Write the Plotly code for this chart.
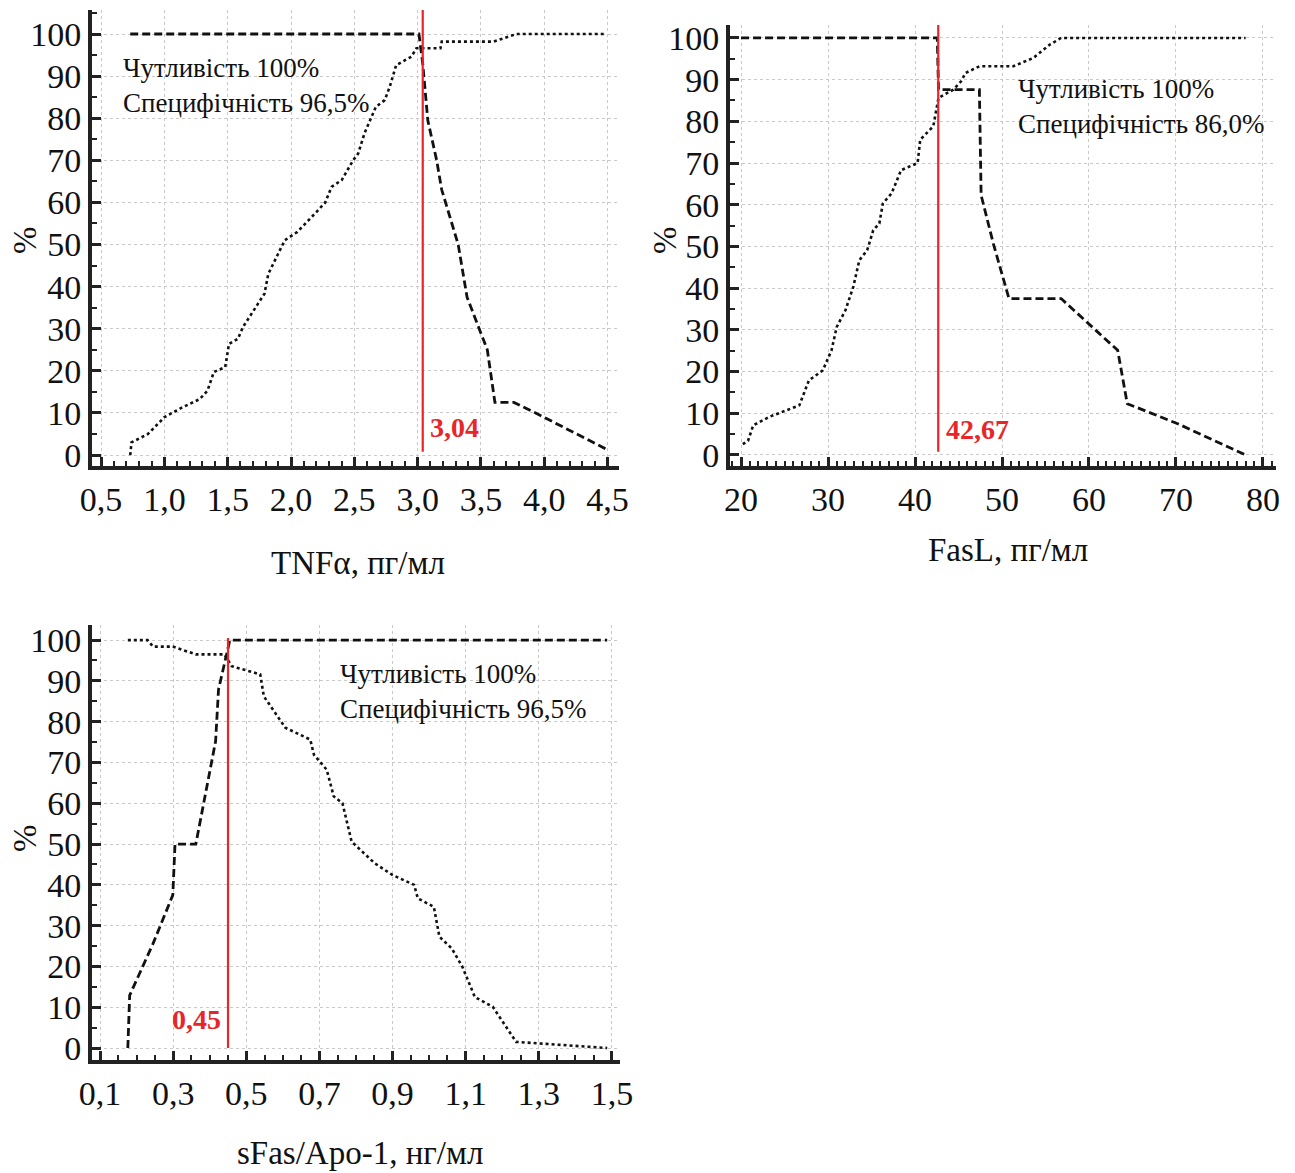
import plotly.graph_objects as go

W, H = 1295, 1173

# ---------------- data ----------------
tnf_sens_x = [0.73, 3.01, 3.04, 3.08, 3.15, 3.19, 3.32, 3.39, 3.55, 3.61, 3.76, 3.97, 4.49]
tnf_sens_y = [100, 100, 93, 79.5, 70, 63, 50, 37.5, 25, 12.5, 12.5, 9.4, 1.4]
tnf_spec_x = [0.73, 0.74, 0.87, 1.0, 1.14, 1.28, 1.34, 1.39, 1.48, 1.51, 1.58, 1.62, 1.79, 1.82,
              1.95, 2.05, 2.2, 2.27, 2.32, 2.4, 2.49, 2.53, 2.58, 2.67, 2.74, 2.78, 2.83, 2.95,
              2.99, 3.02, 3.18, 3.19, 3.6, 3.78, 4.49]
tnf_spec_y = [0, 3, 5, 9, 11.3, 13.3, 15.3, 19.7, 20.9, 26.4, 27.6, 30.4, 38.3, 43,
              51, 53, 57.7, 60, 63.7, 65.3, 70, 71.6, 76.4, 82.7, 84.3, 87.5, 92.6, 94.6,
              96.6, 96.6, 96.6, 98.2, 98.2, 100, 100]
tnf_cut = 3.04

fasl_sens_x = [20.0, 42.56, 42.7, 47.4, 47.6, 49.0, 50.8, 56.8, 63.3, 64.4, 70.2, 78.0]
fasl_sens_y = [100, 100, 87.6, 87.6, 62.3, 50.7, 37.5, 37.5, 25.1, 12.3, 7.5, 0]
fasl_spec_x = [20.2, 20.8, 21.4, 23.2, 26.7, 27.8, 29.4, 30.4, 31.0, 32.0, 32.9, 33.6, 34.5,
               35.2, 35.9, 36.3, 37.3, 38.4, 40.3, 40.6, 42.1, 42.7, 44.4, 45.3, 45.8, 47.4,
               51.3, 53.6, 55.5, 56.8, 78.0]
fasl_spec_y = [2.6, 3.4, 7.1, 9.1, 11.9, 17.9, 20.3, 25.1, 30.7, 34.7, 40.3, 46.7, 49.1,
               53.9, 55.5, 60.3, 62.7, 68.3, 70.0, 75.6, 78.8, 85.6, 87.6, 89.6, 91.6, 93.2,
               93.2, 95.2, 98.4, 100, 100]
fasl_cut = 42.67

sfas_sens_x = [0.176, 0.181, 0.245, 0.299, 0.305, 0.362, 0.416, 0.424, 0.455, 1.487]
sfas_sens_y = [0, 12.9, 25.6, 37.5, 50, 50, 75.2, 87.9, 100, 100]
sfas_spec_x = [0.176, 0.23, 0.245, 0.299, 0.362, 0.44, 0.46, 0.538, 0.548, 0.573, 0.607,
               0.675, 0.685, 0.72, 0.739, 0.763, 0.788, 0.851, 0.9, 0.959, 0.969, 1.013,
               1.028, 1.062, 1.091, 1.125, 1.174, 1.238, 1.487]
sfas_spec_y = [100, 100, 98.4, 98.4, 96.5, 96.5, 93.6, 91.6, 86.2, 83, 78.5, 75.6, 71.9,
               68.2, 61.7, 60, 50.6, 45.3, 42.4, 40, 36.7, 34.6, 27.3, 24.4, 19.9, 12.5,
               10.1, 1.5, 0]
sfas_cut = 0.45

y_ticks = list(range(0, 101, 10))
tnf_ticks = [0.5, 1.0, 1.5, 2.0, 2.5, 3.0, 3.5, 4.0, 4.5]
tnf_labels = ["0,5", "1,0", "1,5", "2,0", "2,5", "3,0", "3,5", "4,0", "4,5"]
fasl_ticks = [20, 30, 40, 50, 60, 70, 80]
fasl_labels = ["20", "30", "40", "50", "60", "70", "80"]
sfas_ticks = [0.1, 0.3, 0.5, 0.7, 0.9, 1.1, 1.3, 1.5]
sfas_labels = ["0,1", "0,3", "0,5", "0,7", "0,9", "1,1", "1,3", "1,5"]

FONT = "Liberation Serif"
RED = "#e8262a"

fig = go.Figure()

def add_panel(n, sx, sy, px, py, cut, cut_y):
    xa = "x" if n == 1 else f"x{n}"
    ya = "y" if n == 1 else f"y{n}"
    fig.add_trace(go.Scatter(x=sx, y=sy, mode="lines", xaxis=xa, yaxis=ya,
                             line=dict(color="#111", width=2.8, dash="8px,4px"), showlegend=False))
    fig.add_trace(go.Scatter(x=px, y=py, mode="lines", xaxis=xa, yaxis=ya,
                             line=dict(color="#111", width=2.6, dash="dot"), showlegend=False))
    fig.add_trace(go.Scatter(x=[cut, cut], y=cut_y, mode="lines", xaxis=xa, yaxis=ya,
                             line=dict(color=RED, width=2.2), showlegend=False))

add_panel(1, tnf_sens_x, tnf_sens_y, tnf_spec_x, tnf_spec_y, tnf_cut, [0.8, 106])
add_panel(2, fasl_sens_x, fasl_sens_y, fasl_spec_x, fasl_spec_y, fasl_cut, [0.8, 103.2])
add_panel(3, sfas_sens_x, sfas_sens_y, sfas_spec_x, sfas_spec_y, sfas_cut, [0, 100.5])

def dom_x(a, b):
    return [a / W, b / W]

def dom_y(top, bot):
    return [1 - bot / H, 1 - top / H]

axis_common = dict(showline=True, linecolor="#222", linewidth=4, mirror=False,
                   ticks="inside", tickcolor="#222", tickwidth=2.5, ticklen=9,
                   showgrid=True, gridcolor="#c9c9c9", griddash="dot", gridwidth=1,
                   zeroline=False, automargin=False,
                   tickfont=dict(family=FONT, size=34, color="#111"))

def xaxis(dom, rng, ticks, labels, minor, anchor):
    d = dict(axis_common)
    d.update(domain=dom, range=rng, tickmode="array", tickvals=ticks, ticktext=labels,
             anchor=anchor, ticklabelstandoff=0,
             minor=dict(dtick=minor, tick0=ticks[0], ticks="inside", ticklen=5,
                        tickwidth=1.5, tickcolor="#222", showgrid=False))
    return d

def yaxis(dom, rng, anchor):
    d = dict(axis_common)
    d.update(domain=dom, range=rng, tickmode="array", tickvals=y_ticks,
             ticktext=[str(v) for v in y_ticks], anchor=anchor, ticklabelstandoff=0,
             minor=dict(dtick=5, tick0=0, ticks="inside", ticklen=5,
                        tickwidth=1.5, tickcolor="#222", showgrid=False))
    return d

fig.update_layout(
    template="none",
    width=W, height=H, margin=dict(l=0, r=0, t=0, b=0, pad=0, autoexpand=False),
    paper_bgcolor="white", plot_bgcolor="white",
    xaxis=xaxis(dom_x(92, 619), [0.428, 4.59], tnf_ticks, tnf_labels, 0.1, "y"),
    yaxis=yaxis(dom_y(10, 466), [-2.6, 105.7], "x"),
    xaxis2=xaxis(dom_x(730, 1276), [18.73, 81.5], fasl_ticks, fasl_labels, 1, "y2"),
    yaxis2=yaxis(dom_y(25, 466), [-2.64, 103.1], "x2"),
    xaxis3=xaxis(dom_x(92, 620), [0.078, 1.522], sfas_ticks, sfas_labels, 0.05, "y3"),
    yaxis3=yaxis(dom_y(625, 1060), [-2.94, 103.7], "x3"),
)

def px_ann(text, x, y, size, angle=0, xanchor="center"):
    fig.add_annotation(text=text, x=x / W, y=1 - y / H, xref="paper", yref="paper",
                       showarrow=False, textangle=angle, xanchor=xanchor, yanchor="middle",
                       font=dict(family=FONT, size=size, color="#111"))

px_ann("TNFα, пг/мл", 358, 563, 33)
px_ann("FasL, пг/мл", 1008, 550, 33)
px_ann("sFas/Apo-1, нг/мл", 360, 1153, 33)
px_ann("%", 25, 240, 33, angle=-90)
px_ann("%", 665, 240, 33, angle=-90)
px_ann("%", 25, 838, 33, angle=-90)

def txt(n, x, y, text):
    xa = "x" if n == 1 else f"x{n}"
    ya = "y" if n == 1 else f"y{n}"
    fig.add_annotation(text=text, x=x, y=y, xref=xa, yref=ya, showarrow=False,
                       xanchor="left", yanchor="middle", align="left",
                       font=dict(family=FONT, size=27, color="#111"))

txt(1, 0.66, 87.8, "Чутливість 100%<br>Специфічність 96,5%")
txt(2, 51.6, 83.6, "Чутливість 100%<br>Специфічність 86,0%")
txt(3, 0.752, 87.4, "Чутливість 100%<br>Специфічність 96,5%")

def red(n, x, y, text, xanchor):
    xa = "x" if n == 1 else f"x{n}"
    ya = "y" if n == 1 else f"y{n}"
    fig.add_annotation(text=f"<b>{text}</b>", x=x, y=y, xref=xa, yref=ya, showarrow=False,
                       xanchor=xanchor, yanchor="middle",
                       font=dict(family=FONT, size=28, color=RED))

red(1, 3.08, 6.6, "3,04", "left")
red(2, 43.3, 6.0, "42,67", "left")
red(3, 0.436, 6.9, "0,45", "right")

fig.write_html("out.html")
